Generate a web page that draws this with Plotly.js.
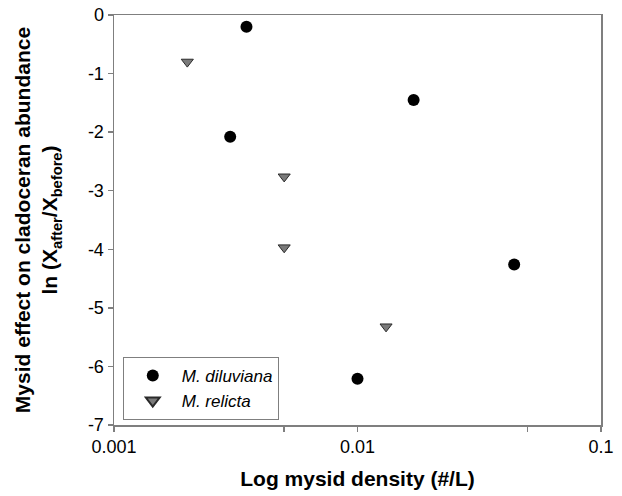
<!DOCTYPE html>
<html>
<head>
<meta charset="utf-8">
<script src="https://cdn.plot.ly/plotly-3.0.1.min.js"></script>
<style>html,body{margin:0;padding:0;background:#fff;}#chart{width:622px;height:496px;}</style>
</head>
<body>
<div id="chart"></div>
<script>
// M. diluviana
const diluvianaX = [0.0035, 0.0030, 0.0170, 0.0440, 0.0100];
const diluvianaY = [-0.20, -2.08, -1.45, -4.26, -6.21];
// M. relicta
const relictaX = [0.0020, 0.0050, 0.0050, 0.0131];
const relictaY = [-0.80, -2.76, -3.97, -5.32];

const xTickVals = [0.001, 0.01, 0.1];
const xTickText = ["0.001", "0.01", "0.1"];
const xMinorVals = [0.005, 0.05];
const yTickVals = [0, -1, -2, -3, -4, -5, -6, -7];
const yTickText = ["0", "-1", "-2", "-3", "-4", "-5", "-6", "-7"];

const font = "Arial, 'Liberation Sans', sans-serif";
const axisColor = "#7f7f7f";

const traces = [
  {
    x: diluvianaX, y: diluvianaY, type: "scatter", mode: "markers",
    name: "<i>M. diluviana</i>",
    marker: {symbol: "circle", size: 12, color: "#000000", line: {width: 0}}
  },
  {
    x: relictaX, y: relictaY, type: "scatter", mode: "markers",
    name: "<i>M. relicta</i>",
    marker: {symbol: "triangle-down", size: 10.5, color: "#7a7a7a", line: {width: 1, color: "#2a2a2a"}}
  }
];

const layout = {
  width: 622, height: 496,
  margin: {l: 114, r: 21, t: 15, b: 71},
  paper_bgcolor: "#ffffff", plot_bgcolor: "#ffffff",
  font: {family: font, size: 17, color: "#000"},
  showlegend: true,
  legend: {
    x: 0.018, y: 0.166, xanchor: "left", yanchor: "top",
    bordercolor: axisColor, borderwidth: 1, bgcolor: "#ffffff",
    font: {family: font, size: 17, color: "#000"},
    tracegroupgap: 0, itemsizing: "constant", itemwidth: 48
  },
  xaxis: {
    type: "log", range: [-3, -1],
    tickmode: "array", tickvals: xTickVals, ticktext: xTickText,
    ticks: "outside", ticklen: 5, tickwidth: 1.5, tickcolor: axisColor,
    minor: {tickmode: "array", tickvals: xMinorVals, ticks: "outside", ticklen: 5, tickwidth: 1.5, tickcolor: axisColor, showgrid: false},
    showline: true, linecolor: axisColor, linewidth: 1.5, mirror: true,
    showgrid: false, zeroline: false,
    tickfont: {family: font, size: 18, color: "#000"},
    title: {text: "<b>Log mysid density (#/L)</b>", font: {family: font, size: 21, color: "#000"}, standoff: 15}
  },
  yaxis: {
    range: [-7, 0],
    tickmode: "array", tickvals: yTickVals, ticktext: yTickText,
    ticks: "outside", ticklen: 5, tickwidth: 1.5, tickcolor: axisColor,
    showline: true, linecolor: axisColor, linewidth: 1.5, mirror: true,
    showgrid: false, zeroline: false,
    tickfont: {family: font, size: 18, color: "#000"},
    title: {text: "<b>Mysid effect on cladoceran abundance</b><br><b>ln (X<sub>after</sub>/X<sub>before</sub>)</b>", font: {family: font, size: 21, color: "#000"}, standoff: 24}
  }
};

Plotly.newPlot("chart", traces, layout, {displayModeBar: false, staticPlot: true});
</script>
</body>
</html>
